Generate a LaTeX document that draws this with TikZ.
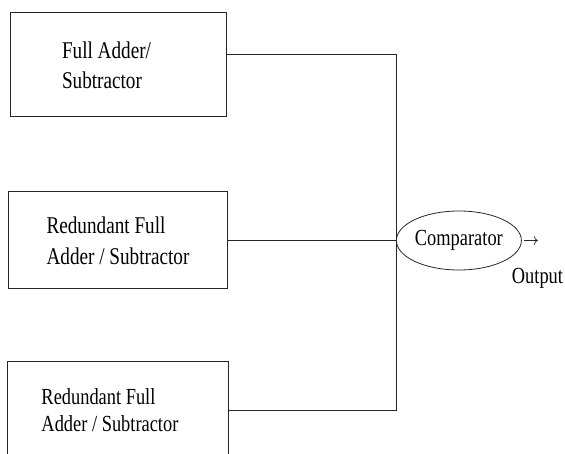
\documentclass[tikz,border=0pt]{standalone}
\usepackage{fontspec}
\setmainfont{Liberation Serif}[FakeStretch=0.8]
\usetikzlibrary{shapes.geometric, arrows.meta, positioning}

\begin{document}
\begin{tikzpicture}[
        x=1pt, y=1pt,
        node distance=74pt and 168pt,
        box/.style={rectangle, draw=black!85, line width=1pt, minimum width=216pt,
                    minimum height=104pt, align=flush left, inner sep=0pt,
                    font=\fontsize{24}{30}\selectfont},
        cmpbox/.style={ellipse, draw=black!85, line width=0.8pt, minimum width=125pt,
                    minimum height=59pt, inner sep=0pt, font=\fontsize{23}{26}\selectfont},
        lbl/.style={inner sep=0pt, font=\fontsize{23}{26}\selectfont},
        wire/.style={line width=1pt, black!85},
        arr/.style={-{To[length=4pt, width=9pt]}, line width=0.7pt, black!85}
    ]
    \useasboundingbox (0,0) rectangle (565,453);
    % Adder blocks
    \node[box, text width=112pt] (fa) at (118,388) {Full Adder/\\Subtractor};
    \node[box, minimum width=219pt, minimum height=97pt, below=of fa,
          font=\fontsize{24}{31}\selectfont] (rf1) {Redundant Full\\Adder / Subtractor};
    \node[box, minimum width=221pt, minimum height=98pt, below=71pt of rf1, text width=153pt,
          font=\fontsize{23}{27}\selectfont] (rf2) {Redundant Full\\Adder / Subtractor};
    
    % Comparator and output
    \node[cmpbox, right=of rf1] (cmp) {Comparator};
    \coordinate (outEnd) at ([xshift=16pt]cmp.east);
    \node[lbl] (out) at (537.5,175) {Output};
    
    % Connections
    \draw[wire] ([yshift=10pt]fa.east) -| (cmp.west);
    \draw[wire] (rf1.east) -- (cmp.west);
    \draw[wire] (rf2.east) -| (cmp.west);
    \draw[arr] ([xshift=2pt]cmp.east) -- (outEnd);
\end{tikzpicture}
\end{document}
